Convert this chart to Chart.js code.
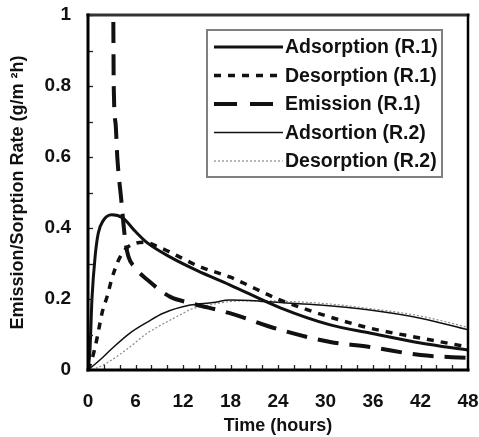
<!DOCTYPE html>
<html>
<head>
<meta charset="utf-8">
<script src="https://cdn.jsdelivr.net/npm/chart.js@4.4.1/dist/chart.umd.min.js"></script>
<style>
html,body{margin:0;padding:0;background:#fff;}
#wrap{width:479px;height:437px;}
</style>
</head>
<body>
<div id="wrap"><canvas id="c" width="479" height="437"></canvas></div>
<script>
// ---- data (time in hours, rate in g/m2h) ----
const adsR1T = [0, 0.25, 0.5, 0.9, 1.3, 1.9, 3, 4.4, 6, 7.5, 10.4, 13.8, 17.9, 24.3, 30.6, 35.6, 42, 48];
const adsR1V = [0, 0.056, 0.2, 0.32, 0.386, 0.42, 0.437, 0.428, 0.39, 0.358, 0.318, 0.28, 0.24, 0.175, 0.127, 0.104, 0.076, 0.056];

const desR1T = [0, 0.5, 1.1, 1.8, 2.4, 3, 3.5, 4, 4.9, 6, 7, 9.1, 11.6, 14, 17.9, 24.3, 30.6, 35.6, 42, 48];
const desR1V = [0, 0.03, 0.085, 0.163, 0.206, 0.256, 0.29, 0.316, 0.344, 0.357, 0.36, 0.345, 0.318, 0.292, 0.262, 0.197, 0.149, 0.118, 0.09, 0.065];

const emR1T = [3.2, 3.25, 3.5, 3.7, 4.2, 4.7, 5.1, 6, 7.5, 10.4, 12.9, 17.9, 24.3, 30.6, 35.6, 42, 48];
const emR1V = [0.98, 0.8, 0.69, 0.6, 0.48, 0.366, 0.32, 0.287, 0.254, 0.206, 0.189, 0.16, 0.113, 0.079, 0.065, 0.042, 0.034];

const adsR2T = [0, 1.5, 3, 5.3, 7.5, 9.5, 12.9, 15.8, 17.9, 21.7, 24.3, 29.3, 35.6, 42, 48];
const adsR2V = [0, 0.028, 0.06, 0.104, 0.135, 0.16, 0.183, 0.19, 0.197, 0.194, 0.19, 0.183, 0.169, 0.146, 0.113];

const desR2T = [0, 1, 2.4, 5, 7.5, 9.5, 11.6, 12.9, 15.8, 18, 21, 24.3, 30, 36, 42, 48];
const desR2V = [0, 0.005, 0.02, 0.06, 0.104, 0.13, 0.155, 0.17, 0.185, 0.193, 0.195, 0.194, 0.187, 0.172, 0.152, 0.12];

const seriesLabels = ['Adsorption (R.1)', 'Desorption (R.1)', 'Emission (R.1)', 'Adsortion (R.2)', 'Desorption (R.2)'];
const yTickValues = [0, 0.2, 0.4, 0.6, 0.8, 1];
const xTickValues = [0, 6, 12, 18, 24, 30, 36, 42, 48];

const pts = (t, v) => t.map((x, i) => ({x: x, y: v[i]}));
const FONT = "'Liberation Sans', Arial, sans-serif";

const styles = [
  {color: '#111', width: 3, dash: []},
  {color: '#111', width: 3.5, dash: [7, 7]},
  {color: '#111', width: 4, dash: [21, 11]},
  {color: '#111', width: 1.5, dash: []},
  {color: '#888', width: 1.2, dash: [2, 2]}
];
const series = [[adsR1T, adsR1V], [desR1T, desR1V], [emR1T, emR1V], [adsR2T, adsR2V], [desR2T, desR2V]];

const datasets = series.map((s, i) => ({
  label: seriesLabels[i],
  data: pts(s[0], s[1]),
  borderColor: styles[i].color,
  borderWidth: styles[i].width,
  borderDash: styles[i].dash,
  pointRadius: 0,
  fill: false,
  cubicInterpolationMode: 'monotone'
}));

const framePlugin = {
  id: 'frame',
  afterDatasetsDraw(chart) {
    const ctx = chart.ctx, a = chart.chartArea;
    const xs = chart.scales.x, ys = chart.scales.y;
    ctx.save();
    // minor ticks (inside)
    ctx.strokeStyle = '#222';
    ctx.lineWidth = 1.3;
    for (let v = 0.1; v < 1.0001; v += 0.1) {
      const y = Math.round(ys.getPixelForValue(v)) + 0.5;
      ctx.beginPath(); ctx.moveTo(a.left, y); ctx.lineTo(a.left + 5, y); ctx.stroke();
    }
    for (let t = 2; t < 48; t += 2) {
      const x = Math.round(xs.getPixelForValue(t)) + 0.5;
      ctx.beginPath(); ctx.moveTo(x, a.bottom); ctx.lineTo(x, a.bottom - 5); ctx.stroke();
    }
    // frame
    ctx.lineCap = 'square';
    ctx.strokeStyle = '#333';
    ctx.lineWidth = 3;
    ctx.beginPath(); ctx.moveTo(a.left, a.top); ctx.lineTo(a.right, a.top); ctx.stroke();
    ctx.strokeStyle = '#000';
    ctx.beginPath(); ctx.moveTo(a.left, a.top); ctx.lineTo(a.left, a.bottom); ctx.stroke();
    ctx.beginPath(); ctx.moveTo(a.left, a.bottom); ctx.lineTo(a.right, a.bottom); ctx.stroke();
    ctx.lineWidth = 2.5;
    ctx.beginPath(); ctx.moveTo(a.right, a.top); ctx.lineTo(a.right, a.bottom); ctx.stroke();

    // legend box
    const bx = a.right - 261, by = a.top + 15, bw = 235, bh = 147;
    ctx.fillStyle = '#fff';
    ctx.fillRect(bx, by, bw, bh);
    ctx.strokeStyle = '#808080';
    ctx.lineWidth = 2;
    ctx.strokeRect(bx, by, bw, bh);
    ctx.font = 'bold 19.5px ' + FONT;
    ctx.textBaseline = 'middle';
    ctx.textAlign = 'left';
    ctx.lineCap = 'butt';
    chart.data.datasets.forEach((d, i) => {
      const y = by + 17 + i * 28.5;
      ctx.strokeStyle = d.borderColor;
      ctx.lineWidth = d.borderWidth;
      let dash = d.borderDash;
      if (i === 2) dash = [23, 13];
      ctx.setLineDash(dash);
      ctx.beginPath(); ctx.moveTo(bx + 7, y); ctx.lineTo(bx + 76, y); ctx.stroke();
      ctx.setLineDash([]);
      ctx.fillStyle = '#111';
      ctx.fillText(d.label, bx + 78, y + 1);
    });
    ctx.restore();
  }
};

new Chart(document.getElementById('c'), {
  type: 'line',
  data: {datasets: datasets},
  plugins: [framePlugin],
  options: {
    responsive: false,
    animation: false,
    layout: {padding: {top: 15, right: 11, left: 0, bottom: 0}},
    plugins: {legend: {display: false}, tooltip: {enabled: false}},
    scales: {
      x: {
        type: 'linear', min: 0, max: 48,
        afterBuildTicks: (s) => { s.ticks = xTickValues.map(v => ({value: v})); },
        afterFit: (s) => { s.height = 67; s.paddingLeft = 0; s.paddingRight = 0; },
        grid: {display: false, drawTicks: false},
        border: {display: false},
        ticks: {padding: 20, color: '#111', font: {family: FONT, size: 19, weight: 'bold'}, maxRotation: 0},
        title: {display: true, text: 'Time (hours)', color: '#111', padding: {top: 0, bottom: 0},
                font: {family: FONT, size: 18, weight: 'bold'}}
      },
      y: {
        type: 'linear', min: 0, max: 1,
        afterBuildTicks: (s) => { s.ticks = yTickValues.map(v => ({value: v})); },
        afterFit: (s) => { s.width = 88; s.paddingTop = 0; s.paddingBottom = 0; },
        grid: {display: false, drawTicks: false},
        border: {display: false},
        ticks: {padding: 17, color: '#111', font: {family: FONT, size: 19, weight: 'bold'},
                callback: (v) => String(Math.round(v * 10) / 10)},
        title: {display: true, text: 'Emission/Sorption Rate (g/m \u00B2h)', color: '#111', padding: {top: 7, bottom: 0},
                font: {family: FONT, size: 18, weight: 'bold'}}
      }
    }
  }
});
</script>
</body>
</html>
